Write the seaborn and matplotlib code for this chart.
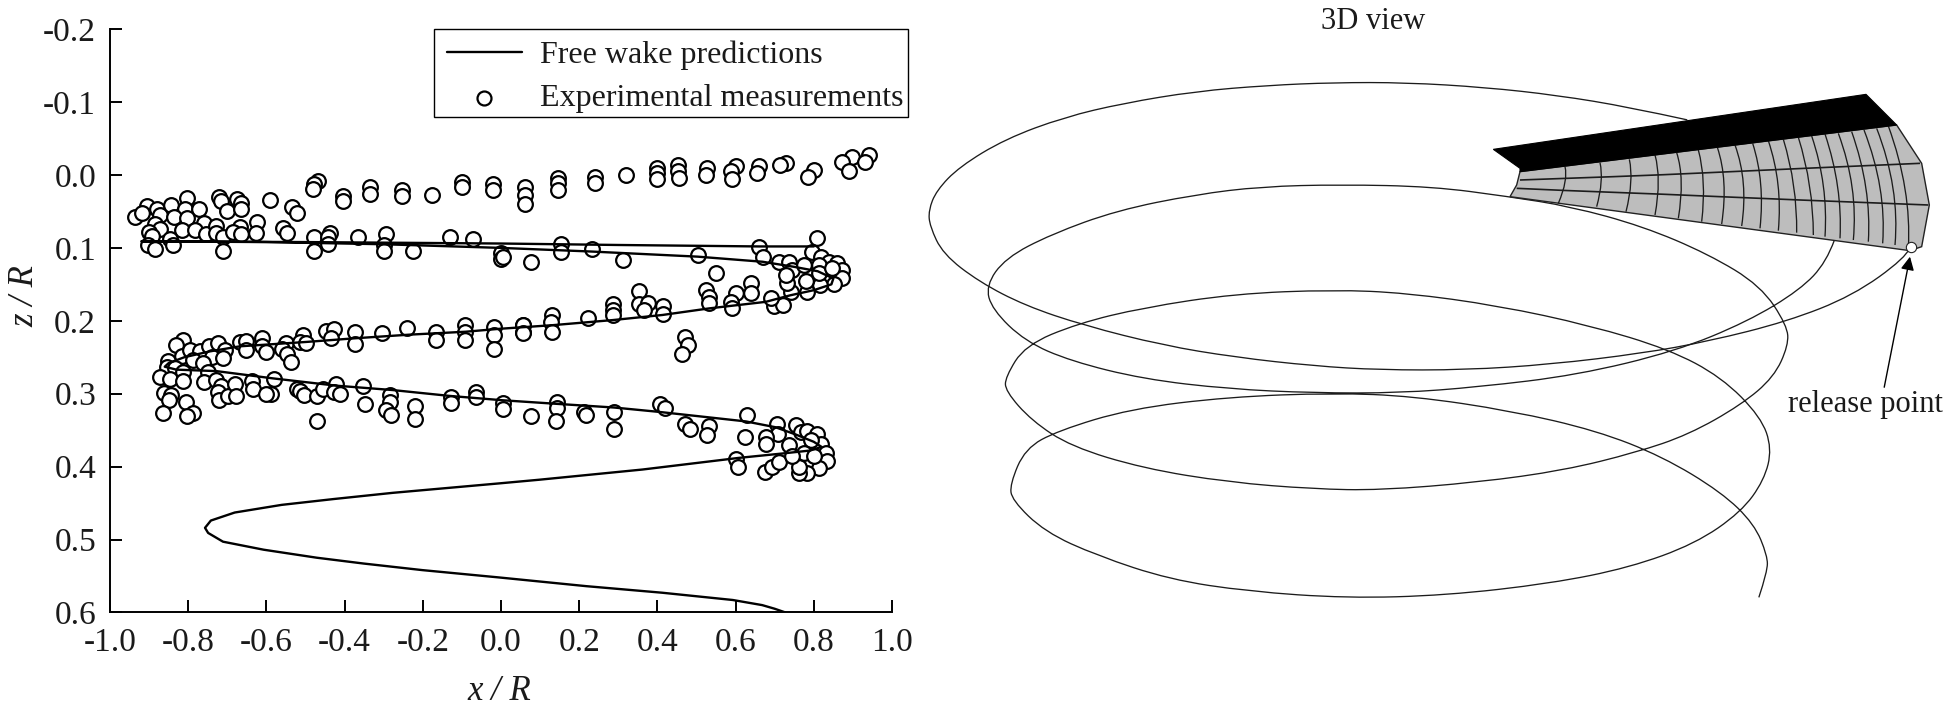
import matplotlib
matplotlib.use("Agg")
import matplotlib.pyplot as plt
from matplotlib.path import Path
from matplotlib.patches import PathPatch, Rectangle
import numpy as np
import pandas as pd
import seaborn as sns

# ---------- left panel data: (x/R, z/R) ----------
wake_x = [0.80,0.66,0.30,0.00,-0.50,-0.92,-0.60,-0.30,0.00,0.232,0.503,0.669,0.75,0.81,0.85,0.845,0.80,0.74,0.677,
          0.532,0.413,0.286,0.132,-0.004,-0.091,-0.234,-0.374,-0.498,-0.61,-0.668,-0.745,-0.81,-0.85,-0.86,-0.83,-0.728,
          -0.583,-0.421,-0.277,-0.132,0.004,0.145,0.29,0.405,0.626,0.702,0.754,0.80,0.82,0.79,0.72,0.609,0.362,0.098,-0.004,
          -0.277,-0.428,-0.561,-0.681,-0.742,-0.757,-0.749,-0.711,-0.607,-0.471,-0.351,-0.201,-0.006,0.218,0.412,0.593,0.668,0.70,0.727]
wake_z = [0.098,0.098,0.096,0.094,0.092,0.091,0.092,0.095,0.100,0.105,0.112,0.119,0.126,0.132,0.142,0.150,0.158,0.165,0.174,
          0.183,0.192,0.199,0.206,0.211,0.215,0.219,0.224,0.229,0.233,0.235,0.242,0.250,0.258,0.263,0.267,0.269,
          0.279,0.289,0.295,0.303,0.309,0.314,0.319,0.325,0.338,0.346,0.356,0.366,0.373,0.378,0.382,0.388,0.404,0.418,0.423,
          0.436,0.4445,0.4525,0.463,0.474,0.484,0.491,0.503,0.514,0.525,0.533,0.542,0.552,0.564,0.573,0.583,0.590,0.595,0.600]

row1_x = [-0.936,-0.905,-0.919,-0.881,-0.872,-0.845,-0.804,-0.808,-0.836,-0.773,-0.804,-0.760,-0.885,-0.872,-0.899,-0.893,
          -0.817,-0.783,-0.755,-0.847,-0.840,-0.902,-0.885,-0.721,-0.715,-0.700,-0.728,-0.729,-0.711,-0.711,-0.674,-0.664,
          -0.664,-0.668,-0.685,-0.664,-0.624,-0.627,-0.591,-0.534,-0.523,-0.558,-0.547,-0.468,-0.477,-0.481,-0.477,-0.479,
          -0.438,-0.442,-0.442,-0.403,-0.403,-0.334,-0.334,-0.254,-0.254,-0.177,-0.366,-0.295,-0.298,-0.298,-0.226,-0.130,
          -0.072,-0.100,-0.100,-0.020,-0.020,0.062,0.062,0.062,0.000,0.000,0.077]
row1_z = [0.058,0.042,0.052,0.046,0.055,0.041,0.032,0.046,0.058,0.046,0.059,0.066,0.067,0.074,0.078,0.084,
          0.076,0.075,0.081,0.088,0.096,0.096,0.101,0.030,0.036,0.049,0.070,0.080,0.085,0.104,0.033,0.039,
          0.047,0.071,0.078,0.081,0.065,0.080,0.034,0.044,0.052,0.073,0.080,0.008,0.012,0.019,0.085,0.104,
          0.079,0.085,0.095,0.029,0.036,0.017,0.026,0.021,0.029,0.027,0.085,0.081,0.096,0.104,0.104,0.085,
          0.088,0.010,0.017,0.013,0.020,0.016,0.027,0.040,0.107,0.115,0.120]
row1b_x = [0.145,0.145,0.145,0.240,0.240,0.320,0.398,0.400,0.398,0.452,0.452,0.456,0.528,0.524,0.600,0.588,0.592,0.659,0.656,
           0.730,0.714,0.800,0.786,0.897,0.873,0.890,0.941,0.932,0.154,0.154,0.232,0.311,0.503,0.660,0.669,0.809,0.005,0.551]
row1b_z = [0.004,0.011,0.021,0.003,0.011,0.000,-0.009,-0.003,0.006,-0.014,-0.006,0.004,-0.009,0.000,-0.012,-0.006,0.005,-0.012,-0.003,
           -0.017,-0.014,-0.007,0.003,-0.025,-0.018,-0.006,-0.027,-0.018,0.094,0.105,0.101,0.116,0.110,0.099,0.113,0.087,0.112,0.135]
tip1_x = [0.796,0.818,0.839,0.860,0.711,0.737,0.745,0.775,0.813,0.873,0.873,0.851,0.817,0.783,0.779,0.741,0.732,0.728,0.813,0.847,
          0.698,0.720,0.690,0.639,0.639,0.600,0.588,0.592,0.524,0.532,0.532]
tip1_z = [0.106,0.112,0.119,0.121,0.120,0.119,0.130,0.124,0.123,0.130,0.141,0.150,0.151,0.160,0.146,0.161,0.148,0.137,0.135,0.128,
          0.180,0.178,0.169,0.148,0.162,0.162,0.174,0.183,0.158,0.167,0.176]
row2_x = [0.352,0.354,0.375,0.366,0.415,0.415,0.286,0.286,0.286,0.222,0.131,0.128,0.131,0.056,0.056,0.470,0.477,0.464,
          -0.814,-0.830,-0.817,-0.796,-0.770,-0.746,-0.723,-0.706,-0.740,-0.712,-0.787,-0.851,-0.855,-0.762,-0.668,-0.653,-0.651,
          -0.610,-0.610,-0.600,-0.551,-0.559,-0.547,-0.538,-0.506,-0.515,-0.498,-0.447,-0.426,-0.434,-0.374,-0.374,-0.304,-0.240,
          -0.165,-0.165,-0.091,-0.091,-0.091,-0.019,-0.017,-0.019,0.055,0.057]
row2_z = [0.159,0.177,0.176,0.185,0.180,0.190,0.177,0.185,0.192,0.196,0.192,0.201,0.215,0.206,0.216,0.222,0.233,0.245,
          0.227,0.233,0.248,0.240,0.242,0.234,0.230,0.240,0.250,0.251,0.254,0.255,0.264,0.258,0.229,0.228,0.240,
          0.224,0.235,0.243,0.231,0.238,0.245,0.257,0.219,0.229,0.230,0.214,0.211,0.224,0.216,0.232,0.217,0.210,
          0.215,0.227,0.206,0.215,0.226,0.209,0.219,0.238,0.206,0.217]
row3_x = [-0.834,-0.813,-0.872,-0.847,-0.813,-0.749,-0.760,-0.728,-0.862,-0.843,-0.849,-0.864,-0.806,-0.789,-0.804,-0.715,-0.723,-0.721,
          -0.698,-0.681,-0.678,-0.636,-0.634,-0.587,-0.600,-0.581,-0.523,-0.515,-0.505,-0.471,-0.455,-0.471,-0.421,-0.426,-0.413,-0.352,-0.349,
          -0.285,-0.285,-0.294,-0.281,-0.221,-0.221,-0.128,-0.128,-0.064,-0.064,0.004,0.004,0.077,0.143,0.143,0.140,0.213,0.218,0.290,0.288,
          0.406,0.420,0.470,0.483,0.531,0.528,0.628,0.623,0.705,0.709,0.677,0.679]
row3_z = [0.265,0.270,0.277,0.280,0.282,0.270,0.284,0.281,0.299,0.302,0.309,0.327,0.312,0.327,0.331,0.290,0.297,0.308,
          0.303,0.287,0.303,0.283,0.293,0.300,0.300,0.280,0.293,0.296,0.302,0.303,0.294,0.337,0.287,0.298,0.300,0.290,0.314,
          0.302,0.311,0.322,0.329,0.317,0.335,0.304,0.313,0.297,0.305,0.313,0.321,0.331,0.311,0.320,0.338,0.325,0.329,0.325,0.348,
          0.314,0.320,0.341,0.348,0.344,0.356,0.329,0.359,0.342,0.355,0.359,0.369]
tip2_x = [0.602,0.606,0.674,0.694,0.711,0.754,0.766,0.783,0.809,0.818,0.830,0.834,0.813,0.783,0.762,0.762,0.737,0.792,0.775,0.745,0.800]
tip2_z = [0.389,0.400,0.407,0.400,0.394,0.343,0.352,0.351,0.355,0.369,0.382,0.393,0.402,0.409,0.409,0.400,0.370,0.363,0.382,0.386,0.386]

x_ticks = [-1.0,-0.8,-0.6,-0.4,-0.2,0.0,0.2,0.4,0.6,0.8,1.0]
z_ticks = [-0.2,-0.1,0.0,0.1,0.2,0.3,0.4,0.5,0.6]
series_labels = ["Free wake predictions", "Experimental measurements"]

# ---------- right panel geometry ----------
curve_a = [(1507,625),(1500,650),(1420,745),(1320,810),(1200,860),(1100,890),(960,918),(830,932),(700,932),(600,922),(480,900),
           (370,870),(250,820),(160,770),(90,710),(35,640),(15,570),(13,530),(25,480),(60,420),(130,350),(220,295),(310,260),
           (420,230),(530,215),(630,208),(740,208),(860,220),(970,240),(1080,270),(1168,302)]
curve_b = [(1392,605),(1380,660),(1340,730),(1260,810),(1150,885),(1000,945),(850,975),(730,990),(600,990),(470,980),(340,955),
           (230,910),(160,860),(110,780),(100,720),(130,650),(200,590),(300,530),(420,490),(520,470),(640,465),(780,470),(895,495),
           (990,520),(1100,570),(1200,640),(1280,720),(1320,820),(1322,870),(1300,950),(1250,1020),(1170,1095),(1090,1140),(980,1185),
           (850,1215),(700,1235),(600,1232),(470,1215),(340,1180),(230,1125),(170,1060),(130,985),(130,950),(160,870),(240,815),
           (340,775),(480,740),(630,730),(740,738),(880,770),(1020,820),(1140,880),(1220,950),(1280,1050),(1297,1130),(1285,1210),
           (1250,1290),(1180,1370),(1080,1430),(960,1470),(800,1500),(650,1507),(500,1490),(380,1460),(270,1400),(190,1340),(140,1260),
           (137,1220),(160,1130),(210,1085),(320,1030),(470,1000),(630,990),(750,998),(900,1035),(1030,1085),(1130,1150),(1220,1240),
           (1270,1320),(1290,1400),(1290,1440),(1277,1505)]
blade_dark = [(100,148),(1218,-17),(1310,75),(180,215),(180,205)]
blade_grey = [(180,215),(1310,75),(1385,190),(1408,315),(1385,440),(1350,452),(150,290),(170,255)]
chord_1 = [(180,240),(320,235),(600,225),(960,208),(1380,190)]
chord_2 = [(170,265),(320,272),(600,282),(960,298),(1405,315)]
spans = [[(315,200),(325,240),(295,310)],[(420,188),(432,240),(410,320)],[(508,178),(522,240),(498,335)],
         [(585,165),(605,235),(585,345)],[(650,158),(675,235),(655,355)],[(715,150),(740,240),(725,365)],
         [(772,142),(805,240),(785,372)],[(825,135),(865,245),(845,378)],[(878,130),(915,245),(900,385)],
         [(925,122),(968,250),(955,392)],[(970,118),(1012,255),(1010,398)],[(1015,112),(1060,255),(1060,405)],
         [(1055,108),(1105,255),(1095,410)],[(1095,102),(1148,260),(1140,415)],[(1135,100),(1195,262),(1180,420)],
         [(1175,95),(1235,265),(1225,425)],[(1212,90),(1280,265),(1268,430)],[(1250,85),(1320,265),(1305,435)],
         [(1285,78),(1355,270),(1345,445)]]
release_point = (1352,440)

def smooth_path(points):
    """A path of quadratic curves that uses the read points as its control points."""
    p = np.asarray(points, dtype=float)
    verts, codes = [p[0]], [Path.MOVETO]
    for i in range(1, len(p) - 1):
        end = p[i + 1] if i == len(p) - 2 else (p[i] + p[i + 1]) / 2
        verts += [p[i], end]
        codes += [Path.CURVE3, Path.CURVE3]
    return Path(verts, codes)

# ---------- figure ----------
sns.set_theme(style="ticks")
plt.rcParams["font.family"] = ["Liberation Serif", "DejaVu Serif"]
plt.rcParams["axes.unicode_minus"] = False
W, H = 1950, 712
fig = plt.figure(figsize=(W/100, H/100), dpi=100)
def box(l, t, r, b):
    return [l/W, 1-b/H, (r-l)/W, (b-t)/H]

ax = fig.add_axes(box(110, 29.2, 892, 612.4))
exp_x = row1_x + row1b_x + tip1_x + row2_x + row3_x + tip2_x
exp_z = row1_z + row1b_z + tip1_z + row2_z + row3_z + tip2_z
exp_df = pd.DataFrame({"x": exp_x, "z": exp_z})
wake_df = pd.DataFrame({"x": wake_x, "z": wake_z})
sns.scatterplot(data=exp_df, x="x", y="z", ax=ax, s=112, marker="o", facecolor="white", edgecolor="black",
                linewidth=1.6, zorder=2, clip_on=False, label=series_labels[1])
sns.lineplot(data=wake_df, x="x", y="z", ax=ax, sort=False, estimator=None, color="black", lw=1.7, zorder=3,
             label=series_labels[0])
ax.set_xlim(-1.0, 1.0)
ax.set_ylim(0.6, -0.2)
ax.set_xticks(x_ticks, [f"{v:.1f}" for v in x_ticks])
ax.set_yticks(z_ticks, [f"{v:.1f}" for v in z_ticks])
ax.tick_params(direction="in", length=8.6, width=1.4, labelsize=24, color="black", labelcolor="#1a1a1a")
ax.tick_params(axis="x", pad=11)
ax.tick_params(axis="y", pad=10)
for s in ("top", "right"):
    ax.spines[s].set_visible(False)
for s in ("left", "bottom"):
    ax.spines[s].set_linewidth(1.4)
    ax.spines[s].set_color("black")
ax.set_xlabel("x / R", fontsize=25, style="italic", color="#1a1a1a")
ax.set_ylabel("z / R", fontsize=25, style="italic", color="#1a1a1a")
ax.xaxis.set_label_coords(499/W, 1-692/H, transform=fig.transFigure)
ax.yaxis.set_label_coords(25/W, 1-296/H, transform=fig.transFigure)
ax.xaxis.label.set_va("center")
ax.yaxis.label.set_va("center")

# legend: its frame is wider than tall pads allow, so the box is a separate rectangle
frame = Rectangle((434/W, 1-117/H), 474/W, 88/H, transform=fig.transFigure, facecolor="white",
                  edgecolor="black", lw=1.0, zorder=5)
ax.add_patch(frame)
frame.set_clip_on(False)
handles, labels = ax.get_legend_handles_labels()
order = [labels.index(t) for t in series_labels]
leg = ax.legend([handles[i] for i in order], [labels[i] for i in order],
                loc="upper left", bbox_to_anchor=(447/W, 1-41/H), bbox_transform=fig.transFigure,
                fontsize=23, frameon=False, borderaxespad=0,
                borderpad=0, handlelength=2.34, handletextpad=0.56, labelspacing=0.42, markerscale=0.95)
leg.set_zorder(6)
for t in leg.get_texts():
    t.set_color("#1a1a1a")

# helix panel, in the units the curves were read in
ax2 = fig.add_axes(box(920, 0, 1950, 620))
ax2.set_xlim(0, 1568); ax2.set_ylim(1562, 0); ax2.axis("off")
for c in (curve_a, curve_b):
    ax2.add_patch(PathPatch(smooth_path(c), facecolor="none", edgecolor="#1c1c1c", lw=0.95))
ax2.text(690, 55, "3D view", ha="center", va="center", fontsize=22, color="#1a1a1a")

# blade, drawn over the helix
ax3 = fig.add_axes(box(1460, 100, 1950, 440))
ax3.patch.set_alpha(0)
ax3.set_xlim(0, 1470); ax3.set_ylim(1020, 0); ax3.axis("off")
ax3.fill(*zip(*blade_grey), facecolor="#bdbdbd", edgecolor="#222222", lw=1.0, clip_on=False, zorder=2)
ax3.fill(*zip(*blade_dark), facecolor="black", edgecolor="black", lw=0.8, clip_on=False, zorder=3)
for seg in spans:
    ax3.add_patch(PathPatch(smooth_path(seg), facecolor="none", edgecolor="#1c1c1c", lw=0.95, zorder=2.5))
for seg in (chord_1, chord_2):
    ax3.add_patch(PathPatch(smooth_path(seg), facecolor="none", edgecolor="#1c1c1c", lw=1.2, zorder=2.6))
ax3.scatter(*release_point, s=55, facecolor="white", edgecolor="#222222", linewidth=0.8, zorder=5)
ax3.annotate("release point", xy=(1350, 470), xytext=(1215, 915), ha="center", va="center",
             fontsize=22, color="#1a1a1a", zorder=5,
             arrowprops=dict(arrowstyle="-|>", color="black", lw=1.0, mutation_scale=20,
                             shrinkA=0, shrinkB=0, relpos=(0.62, 1.0)))
fig.savefig("out.png", dpi=100, facecolor="white")
